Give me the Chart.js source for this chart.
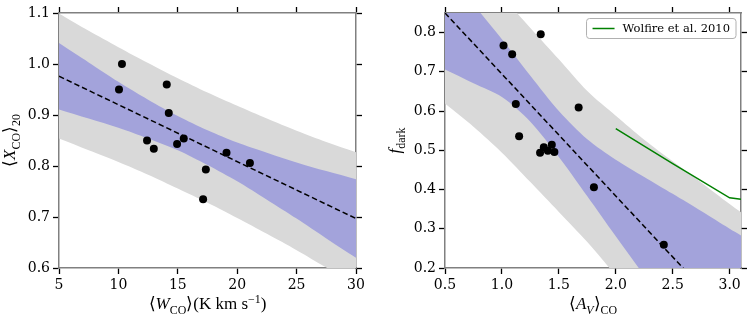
<!DOCTYPE html>
<html>
<head>
<meta charset="utf-8">
<script src="https://cdn.jsdelivr.net/npm/chart.js@4.4.1/dist/chart.umd.min.js"></script>
<style>
  html, body { margin: 0; padding: 0; background: #fff; }
  #wrap { position: relative; width: 747px; height: 319px; }
  .panel { position: absolute; top: 0; height: 319px; }
  #p1 { left: 0; width: 370px; }
  #p2 { left: 370px; width: 377px; }
</style>
</head>
<body>
<div id="wrap">
  <div class="panel" id="p1"><canvas id="wcoChart"></canvas></div>
  <div class="panel" id="p2"><canvas id="avChart"></canvas></div>
</div>
<script>
/* ── data: left panel, <X_CO>_20 vs <W_CO> ─────── */
var wcoX = [10.3, 10.05, 14.07, 14.24, 12.41, 12.98, 14.94, 15.5, 19.1, 21.07, 17.36, 17.13];
var xcoY = [1.0, 0.95, 0.96, 0.904, 0.85, 0.834, 0.843, 0.854, 0.826, 0.806, 0.793, 0.735];
var fitLeftX = [5, 30];
var fitLeftY = [0.976, 0.697];
var bandLeftX  = [5, 7.5, 10, 12.5, 15, 17.5, 20, 22.5, 25, 27.5, 30];
var blueLeftHi = [1.041, 1.003, 0.965, 0.930, 0.898, 0.870, 0.846, 0.826, 0.807, 0.790, 0.774];
var blueLeftLo = [0.911, 0.893, 0.875, 0.854, 0.831, 0.802, 0.770, 0.734, 0.697, 0.658, 0.620];
var greyLeftHi = [1.099, 1.065, 1.033, 1.002, 0.972, 0.944, 0.918, 0.893, 0.869, 0.847, 0.827];
var greyLeftLo = [0.854, 0.831, 0.808, 0.783, 0.756, 0.728, 0.698, 0.667, 0.635, 0.601, 0.567];

/* ── data: right panel, f_dark vs <A_V>_CO ─────── */
var avX    = [1.014, 1.09, 1.341, 1.122, 1.151, 1.674, 1.335, 1.368, 1.403, 1.438, 1.461, 1.808, 2.422];
var fdarkY = [0.767, 0.745, 0.796, 0.618, 0.536, 0.609, 0.494, 0.508, 0.499, 0.514, 0.496, 0.406, 0.259];
var fitRightX = [0.5, 2.6];
var fitRightY = [0.85, 0.197];
var bandRightX  = [0.5, 0.75, 1.0, 1.25, 1.5, 1.75, 2.0, 2.25, 2.5, 2.75, 3.0, 3.1];
var blueRightHi = [0.96, 0.872, 0.783, 0.69, 0.60, 0.528, 0.476, 0.432, 0.389, 0.345, 0.30, 0.283];
var blueRightLo = [0.706, 0.671, 0.636, 0.573, 0.483, 0.383, 0.281, 0.18, 0.07, -0.04, -0.15, -0.2];
var greyRightHi = [1.058, 0.975, 0.893, 0.812, 0.732, 0.651, 0.588, 0.527, 0.472, 0.418, 0.363, 0.342];
var greyRightLo = [0.619, 0.56, 0.494, 0.419, 0.343, 0.266, 0.18, 0.085, -0.015, -0.12, -0.23, -0.27];
var wolfireX = [2.0, 2.5, 3.0, 3.1];
var wolfireY = [0.555, 0.466, 0.379, 0.375];

/* axis limits: [min, max, step] */
var wcoLim = [5, 30, 5];
var xcoLim = [0.6, 1.1, 0.1];
var avLim = [0.5, 3.1, 0.5];
var fdarkLim = [0.2, 0.85, 0.1];

(function () {
  'use strict';

  var GREY = '#d9d9d9';
  var BLUE = '#a3a3db';
  var MATH = "'Liberation Serif', serif";

  Chart.defaults.font.family = "'DejaVu Serif', serif";
  Chart.defaults.font.size = 14;
  Chart.defaults.color = '#000';
  Chart.defaults.animation = false;

  function pts(xs, ys) {
    return xs.map(function (x, i) { return { x: x, y: ys[i] }; });
  }

  /* rich text for axis titles (italic symbols, sub/superscripts) */
  function segFont(style, size) {
    var small = style.length > 1;
    var it = style.charAt(0) === 'i';
    return (it ? 'italic ' : '') + (small ? size * 0.7 : size) + 'px ' + MATH;
  }

  function drawRich(ctx, segs, x, y, angle, size) {
    ctx.save();
    ctx.translate(x, y);
    ctx.rotate(angle);
    ctx.fillStyle = '#000';
    ctx.textAlign = 'left';
    ctx.textBaseline = 'alphabetic';
    var total = 0;
    var widths = segs.map(function (s) {
      ctx.font = segFont(s[1], size);
      var w = ctx.measureText(s[0]).width;
      total += w;
      return w;
    });
    var cx = -total / 2;
    segs.forEach(function (s, i) {
      ctx.font = segFont(s[1], size);
      var k = s[1].charAt(1);
      var dy = k === 's' ? size * 0.28 : (k === 'p' ? -size * 0.38 : 0);
      ctx.fillText(s[0], cx, dy);
      cx += widths[i];
    });
    ctx.restore();
  }

  var mathLabels = {
    id: 'mathLabels',
    afterDraw: function (chart, args, opts) {
      var a = chart.chartArea;
      var ctx = chart.ctx;
      if (opts.x) drawRich(ctx, opts.x, (a.left + a.right) / 2, a.bottom + opts.xOff, 0, opts.size);
      if (opts.y) drawRich(ctx, opts.y, a.left - opts.yOff, (a.top + a.bottom) / 2, -Math.PI / 2, opts.size);
    }
  };

  var boxLegend = {
    id: 'boxLegend',
    afterDraw: function (chart, args, opts) {
      if (!opts.label) return;
      var a = chart.chartArea;
      var ctx = chart.ctx;
      ctx.save();
      ctx.font = "11.5px 'DejaVu Serif', serif";
      var tw = ctx.measureText(opts.label).width;
      var w = 36 + tw + 6, h = 20;
      var x0 = a.right - 5 - w, y0 = a.top + 5.5;
      ctx.beginPath();
      ctx.roundRect(x0, y0, w, h, 3);
      ctx.fillStyle = 'rgba(255,255,255,0.85)';
      ctx.fill();
      ctx.strokeStyle = '#b0b0b0';
      ctx.lineWidth = 1;
      ctx.stroke();
      ctx.beginPath();
      ctx.moveTo(x0 + 6, y0 + h / 2);
      ctx.lineTo(x0 + 28, y0 + h / 2);
      ctx.strokeStyle = opts.color;
      ctx.lineWidth = 1.5;
      ctx.stroke();
      ctx.fillStyle = '#000';
      ctx.textBaseline = 'middle';
      ctx.fillText(opts.label, x0 + 36, y0 + h / 2 + 0.5);
      ctx.restore();
    }
  };

  function axis(pos, lim, size, fmt) {
    var ticks = { stepSize: lim[2], includeBounds: false, display: !!fmt, padding: 3, color: '#000' };
    if (fmt) ticks.callback = fmt;
    return {
      type: 'linear',
      position: pos,
      min: lim[0],
      max: lim[1],
      border: { color: '#808080', width: 1.5 },
      grid: { drawOnChartArea: false, tickLength: 6, tickColor: '#000', tickWidth: 1.3 },
      ticks: ticks,
      afterFit: function (s) {
        if (pos === 'left' || pos === 'right') s.width = size;
        else s.height = size;
      }
    };
  }

  function lineSet(data, extra) {
    var d = {
      data: data,
      borderWidth: 0,
      borderColor: 'rgba(0,0,0,0)',
      pointRadius: 0,
      fill: false,
      tension: 0.3
    };
    for (var k in extra) d[k] = extra[k];
    return d;
  }

  function panelSets(p) {
    var sets = [
      lineSet(pts(p.px, p.py), { showLine: false, pointRadius: 4, pointBackgroundColor: '#000', pointBorderWidth: 0 }),
      lineSet(pts(p.fx, p.fy), { borderColor: '#000', borderWidth: 1.5, borderDash: [5.5, 3], tension: 0 })
    ];
    if (p.extra) sets.push(p.extra);
    sets.push(lineSet(pts(p.bx, p.blueHi), {}));
    sets.push(lineSet(pts(p.bx, p.blueLo), { fill: '-1', backgroundColor: BLUE }));
    sets.push(lineSet(pts(p.bx, p.greyHi), {}));
    sets.push(lineSet(pts(p.bx, p.greyLo), { fill: '-1', backgroundColor: GREY }));
    return sets;
  }

  function oneDec(v) { return v.toFixed(1); }
  function intLabel(v) { return String(v); }

  /* ── 1. Left panel ─────────────────────────────── */
  var leftCtx = document.getElementById('wcoChart');
  new Chart(leftCtx, {
    type: 'line',
    data: {
      datasets: panelSets({
        px: wcoX, py: xcoY, fx: fitLeftX, fy: fitLeftY, bx: bandLeftX,
        blueHi: blueLeftHi, blueLo: blueLeftLo, greyHi: greyLeftHi, greyLo: greyLeftLo
      })
    },
    options: {
      responsive: true,
      maintainAspectRatio: false,
      layout: { padding: 0 },
      plugins: {
        legend: { display: false },
        tooltip: { enabled: false },
        mathLabels: {
          size: 17, xOff: 41, yOff: 44,
          x: [['\u27E8', 'r'], ['W', 'i'], ['CO', 'rs'], ['\u27E9(K km s', 'r'], ['\u22121', 'rp'], [')', 'r']],
          y: [['\u27E8', 'r'], ['X', 'i'], ['CO', 'rs'], ['\u27E9', 'r'], ['20', 'rs']]
        }
      },
      scales: {
        x: axis('bottom', wcoLim, 51, intLabel),
        y: axis('left', xcoLim, 59, oneDec),
        x2: axis('top', wcoLim, 13),
        y2: axis('right', xcoLim, 14)
      }
    },
    plugins: [mathLabels]
  });

  /* ── 2. Right panel ────────────────────────────── */
  var rightCtx = document.getElementById('avChart');
  new Chart(rightCtx, {
    type: 'line',
    data: {
      datasets: panelSets({
        px: avX, py: fdarkY, fx: fitRightX, fy: fitRightY, bx: bandRightX,
        blueHi: blueRightHi, blueLo: blueRightLo, greyHi: greyRightHi, greyLo: greyRightLo,
        extra: lineSet(pts(wolfireX, wolfireY), {
          label: 'Wolfire et al. 2010', borderColor: '#008000', borderWidth: 1.5, tension: 0
        })
      })
    },
    options: {
      responsive: true,
      maintainAspectRatio: false,
      layout: { padding: 0 },
      plugins: {
        legend: { display: false },
        tooltip: { enabled: false },
        mathLabels: {
          size: 17, xOff: 41, yOff: 45,
          x: [['\u27E8', 'r'], ['A', 'i'], ['V', 'is'], ['\u27E9', 'r'], ['CO', 'rs']],
          y: [['f', 'i'], ['dark', 'rs']]
        },
        boxLegend: { label: 'Wolfire et al. 2010', color: '#008000' }
      },
      scales: {
        x: axis('bottom', avLim, 51, oneDec),
        y: axis('left', fdarkLim, 75, oneDec),
        x2: axis('top', avLim, 13),
        y2: axis('right', fdarkLim, 6)
      }
    },
    plugins: [mathLabels, boxLegend]
  });
}());
</script>
</body>
</html>
